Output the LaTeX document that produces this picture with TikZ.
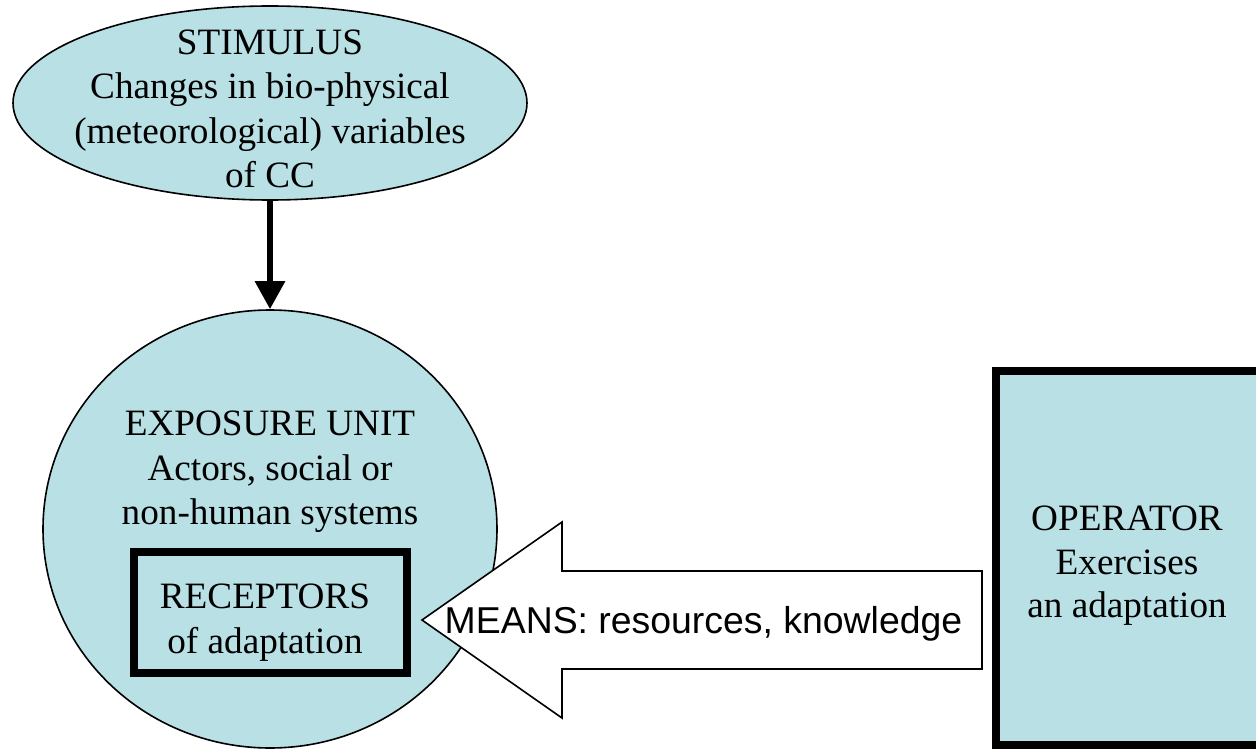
\documentclass[tikz,border=0pt]{standalone}
\usepackage{fontspec}
\setmainfont{Liberation Serif}
\newfontfamily\arialfont{Liberation Sans}
\usetikzlibrary{shapes.geometric,arrows.meta,calc}
\definecolor{cfill}{RGB}{185,224,228}
\begin{document}
\begin{tikzpicture}[x=1pt,y=-1pt,
  thinline/.style={draw=black,line width=1.6pt},
  blob/.style={ellipse,thinline,fill=cfill,inner sep=0pt},
  thickbox/.style={rectangle,draw=black,line width=8pt,fill=cfill,inner sep=0pt},
  serif/.style={font=\fontsize{37.2}{44.5}\selectfont,align=center,inner sep=0pt},
  sans/.style={font=\arialfont\fontsize{37.4}{40}\selectfont,inner sep=0pt},
  flow/.style={draw=black,line width=6pt,-{Triangle[length=28pt,width=29pt]}}]
\useasboundingbox (0,0) rectangle (1256,749);
% stimulus
\node[blob,minimum width=514pt,minimum height=194pt] (stimulus) at (270,103) {};
\node[serif] (stimtext) at (270,109) {STIMULUS\\Changes in bio-physical\\(meteorological) variables\\of CC};
% exposure unit
\node[blob,minimum width=454pt,minimum height=438pt] (exposure) at (270,529) {};
\node[serif] (exptext) at (270,472) {EXPOSURE UNIT\\Actors, social or\\non-human systems};
% receptors
\node[thickbox,minimum width=273pt,minimum height=121pt] (receptors) at (270.5,612.5) {};
\node[serif] (rectext) at (265,622.5) {RECEPTORS\\of adaptation};
% means arrow
\coordinate (meanstip) at (422,620);
\coordinate (meansend) at (982,620);
\draw[thinline,fill=white,line join=miter]
  (meanstip) -- ++(140,-98) -- ++(0,49) -- ($(meansend)+(0,-49)$) -- ($(meansend)+(0,49)$)
  -- ++(-420,0) -- ++(0,49) -- cycle;
\node[sans,anchor=base] (means) at (703.5,633) {MEANS: resources, knowledge};
% operator
\node[thickbox,minimum width=266pt,minimum height=374pt] (operator) at (1129,558) {};
\node[serif,font=\fontsize{37.2}{43.5}\selectfont] (optext) at (1127,566) {OPERATOR\\Exercises\\an adaptation};
% connector
\draw[flow] (stimulus.south) -- (exposure.north);
\end{tikzpicture}
\end{document}
